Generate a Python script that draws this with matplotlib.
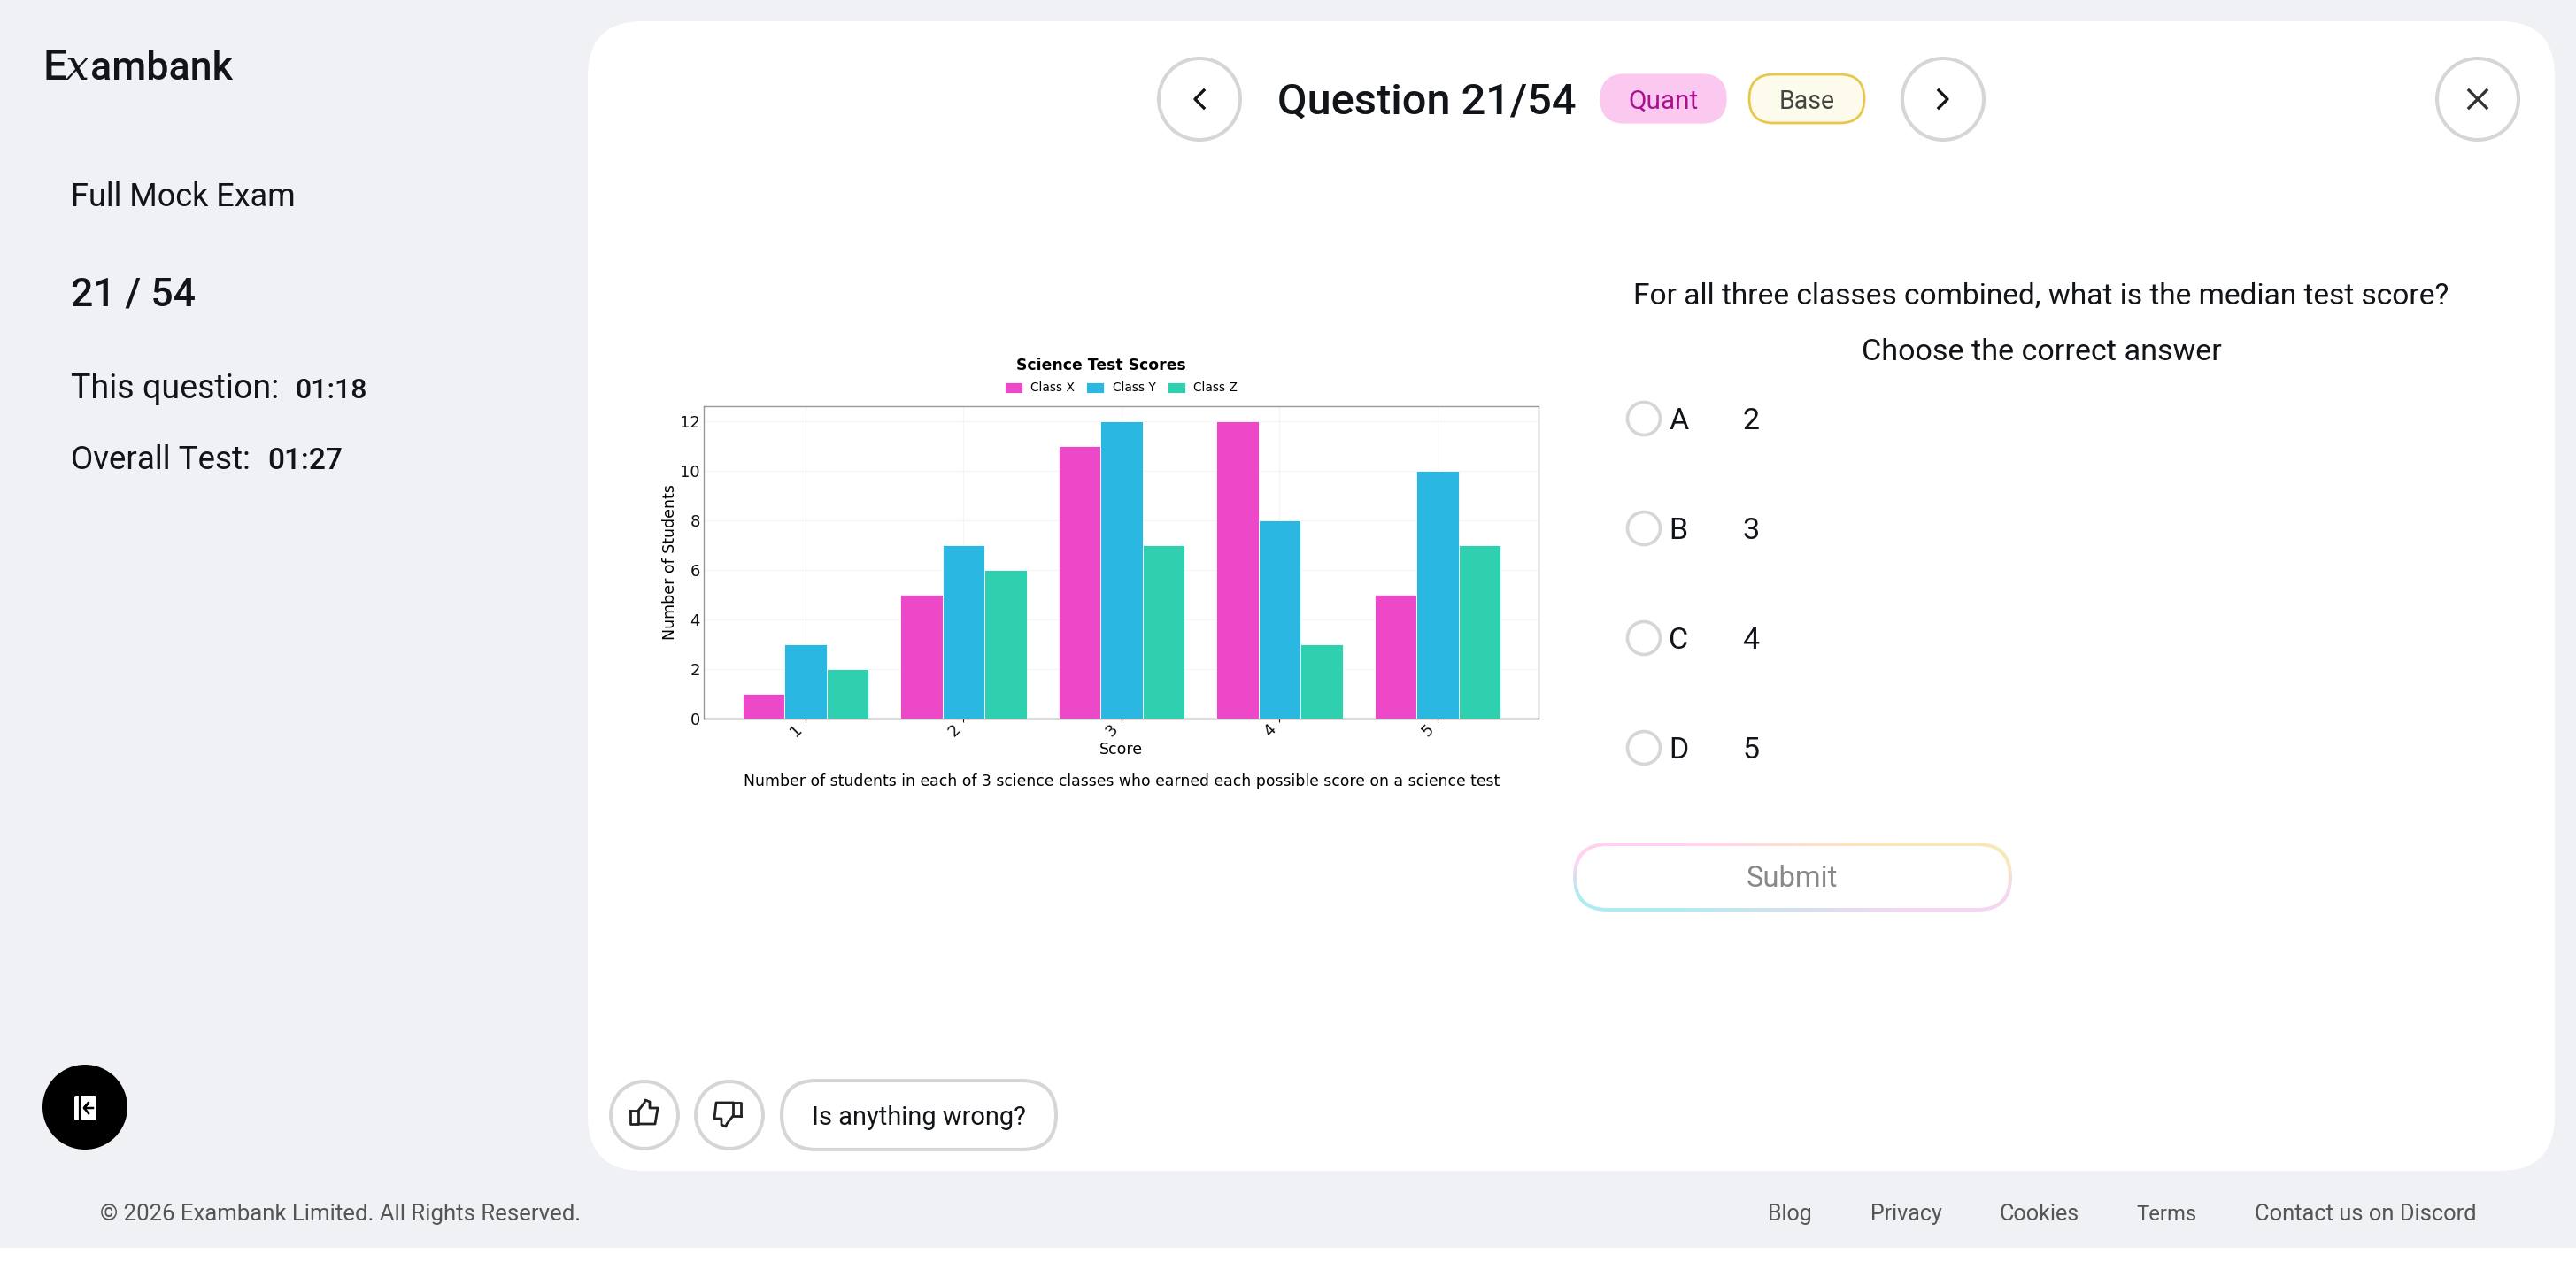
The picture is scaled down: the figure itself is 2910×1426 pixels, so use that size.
import numpy as np
import matplotlib
matplotlib.use('Agg')
import matplotlib.pyplot as plt
from matplotlib.patches import Circle, FancyBboxPatch, Rectangle

W, H = 2910, 1426

# chart data
scores = ['1', '2', '3', '4', '5']
class_x = [1, 5, 11, 12, 5]
class_y = [3, 7, 12, 8, 10]
class_z = [2, 6, 7, 3, 7]
class_names = ['Class X', 'Class Y', 'Class Z']
class_colors = ['#EC48C8', '#2AB8E3', '#2FD0B0']
y_ticks = [0, 2, 4, 6, 8, 10, 12]

# page text
option_letters = ['A', 'B', 'C', 'D']
option_values = ['2', '3', '4', '5']
footer_links = ['Blog', 'Privacy', 'Cookies', 'Terms', 'Contact us on Discord']
footer_x = [1997, 2113, 2258, 2413, 2547]
footer_w = [50, 81, 90, 68, 251]
option_y = [473, 597, 721, 845]

BG = '#EFF1F5'
RING = '#D6D6D6'
INK = '#111418'

plt.rcParams['font.family'] = ['Roboto', 'DejaVu Sans']
fig = plt.figure(figsize=(W / 100, H / 100), dpi=100, facecolor='white')
renderer = fig.canvas.get_renderer()

# page layer is drawn in pixel coordinates
ui = fig.add_axes([0, 0, 1, 1])
ui.set_xlim(0, W)
ui.set_ylim(H, 0)
ui.axis('off')


def label(x, y, s, width, color=INK, ha='left', weight=400, **kw):
    # font size comes from the width the text has in the page
    t = ui.text(x, y, s, fontsize=20, color=color, ha=ha, va='baseline', weight=weight, zorder=6, **kw)
    t.set_fontsize(20 * width / t.get_window_extent(renderer).width)
    return t


def ring(cx, cy, r, fc='white', ec=RING, lw=2.9):
    ui.add_patch(Circle((cx, cy), r, fc=fc, ec=ec, lw=lw, zorder=2))


def pill(x0, y0, x1, y1, fc='white', ec=RING, lw=2.9):
    r = (y1 - y0) / 2
    ui.add_patch(FancyBboxPatch((x0, y0), x1 - x0, y1 - y0, boxstyle='round,pad=0,rounding_size=%f' % r,
                                fc=fc, ec=ec, lw=lw, zorder=2))


ui.add_patch(Rectangle((0, 0), W, 1410, fc=BG, ec='none', zorder=0))
ui.add_patch(FancyBboxPatch((664, 24), 2886 - 664, 1323 - 24, boxstyle='round,pad=0,rounding_size=62',
                            fc='white', ec='none', zorder=1))

# left column
label(48, 90, 'E', 27, weight=500)
label(74, 90, 'x', 27, family='DejaVu Serif', style='italic')
label(102, 90, 'ambank', 161, weight=500)
label(80, 233, 'Full Mock Exam', 253)
label(80, 346, '21 / 54', 141, weight=500)
label(80, 450, 'This question:', 235)
label(333, 450, '01:18', 82, weight=500)
label(80, 530, 'Overall Test:', 203)
label(302, 530, '01:27', 85, weight=500)

# collapse button
ui.add_patch(Circle((96, 1251), 48, fc='black', ec='none', zorder=2))
ui.add_patch(FancyBboxPatch((84, 1238), 25, 28, boxstyle='round,pad=0,rounding_size=2', fc='white', ec='none', zorder=3))
ui.plot([90, 90], [1237, 1267], color='black', lw=1.6, zorder=4)
ui.plot([105, 95, 100, 95, 100], [1252, 1252, 1246, 1252, 1258], color='black', lw=1.8, zorder=4)

# header
ring(1355, 112, 46)
ring(2195, 112, 46)
ring(2799, 112, 46)
ui.plot([1360, 1350, 1360], [102, 112, 122], color=INK, lw=2.4, zorder=5)
ui.plot([2190, 2200, 2190], [102, 112, 122], color=INK, lw=2.4, zorder=5)
ui.plot([2789, 2809], [102, 122], color='#333333', lw=2.4, zorder=5)
ui.plot([2789, 2809], [122, 102], color='#333333', lw=2.4, zorder=5)
label(1443, 129, 'Question 21/54', 338, weight=500)
pill(1808, 84, 1950, 139, fc='#FBC9F0', ec='#FBC9F0', lw=1)
label(1879, 123, 'Quant', 79, color='#A8128F', ha='center')
pill(1976, 84, 2106, 139, fc='#FDFBEB', ec='#E8C84A', lw=2)
label(2041, 123, 'Base', 63, color='#444444', ha='center')

# question
label(2306, 344, 'For all three classes combined, what is the median test score?', 922, ha='center')
label(2306, 407, 'Choose the correct answer', 406, ha='center')
for yy, letter, value in zip(option_y, option_letters, option_values):
    ring(1857, yy, 18.5, lw=2.6)
    ui.text(1885, yy + 12, letter, fontsize=24.5, color=INK, zorder=6)
    ui.text(1978, yy + 12, value, fontsize=24.5, color=INK, ha='center', zorder=6)

# submit button with soft gradient border
grad = np.array([[[1.0, 0.83, 0.94], [0.98, 0.91, 0.72]],
                 [[0.70, 0.92, 0.95], [0.96, 0.84, 0.95]]])
im = ui.imshow(grad, extent=(1777, 2273, 1030, 952), interpolation='bilinear', aspect='auto', zorder=2)
outer = FancyBboxPatch((1777, 952), 496, 78, boxstyle='round,pad=0,rounding_size=39', fc='none', ec='none', zorder=2)
ui.add_patch(outer)
im.set_clip_path(outer)
ui.add_patch(FancyBboxPatch((1781, 956), 488, 70, boxstyle='round,pad=0,rounding_size=35', fc='white', ec='none', zorder=3))
label(2024, 1002, 'Submit', 103, color='#888888', ha='center')
ui.set_xlim(0, W)
ui.set_ylim(H, 0)

# feedback row
ring(728, 1260, 38)
ring(824, 1260, 38)
pill(883, 1221, 1193, 1299)
label(1038, 1271, 'Is anything wrong?', 241, ha='center')
ui.plot([712, 721, 721, 712, 712], [1255, 1255, 1270, 1270, 1255], color='#222222', lw=2, zorder=4)
ui.plot([721, 728, 729, 734, 734, 743, 740, 721],
        [1255, 1246, 1243, 1245, 1252, 1252, 1270, 1270], color='#222222', lw=2, zorder=4)
ui.plot([837, 828, 828, 837, 837], [1261, 1261, 1246, 1246, 1261], color='#222222', lw=2, zorder=4)
ui.plot([828, 821, 820, 815, 815, 807, 809, 828],
        [1261, 1270, 1273, 1271, 1264, 1264, 1246, 1246], color='#222222', lw=2, zorder=4)

# footer
label(113, 1379, '© 2026 Exambank Limited. All Rights Reserved.', 541, color='#555555')
for xx, ww, link in zip(footer_x, footer_w, footer_links):
    label(xx, 1379, link, ww, color='#555555')

# the chart itself
ax = fig.add_axes([795 / W, 1 - 812 / H, (1738 - 795) / W, (812 - 459) / H], zorder=5)
ax.set_facecolor('white')
pos = np.arange(len(scores))
bar_w = 0.8 / 3
for i, (vals, name, col) in enumerate(zip([class_x, class_y, class_z], class_names, class_colors)):
    ax.bar(pos + (i - 1) * bar_w, vals, bar_w, color=col, edgecolor='white', linewidth=0.6, label=name, zorder=3)
ax.set_xlim(-0.644, 4.639)
ax.set_ylim(0, 12.6)
ax.set_yticks(y_ticks)
ax.set_xticks(pos)
ax.set_xticklabels(scores, rotation=45, ha='right', family='DejaVu Sans')
ax.tick_params(axis='x', labelsize=13, colors='#111111', length=3, width=0.8, pad=-1)
ax.tick_params(axis='y', labelsize=13, colors='#111111', length=0, pad=3)
for t in ax.get_yticklabels():
    t.set_family('DejaVu Sans')
ax.grid(True, color='#E8E8E8', lw=0.8, alpha=0.4, zorder=0)
ax.set_axisbelow(True)
for s in ax.spines.values():
    s.set_color('#999999')
    s.set_linewidth(1.0)
ax.spines['bottom'].set_color('#555555')
ax.set_ylabel('Number of Students', fontsize=12.5, family='DejaVu Sans', va='center')
ax.yaxis.set_label_coords(-0.0404, 0.5)
ax.set_xlabel('Score', fontsize=12.5, family='DejaVu Sans', va='center')
ax.xaxis.set_label_coords(0.5, -0.099)
ax.legend(loc='lower center', bbox_to_anchor=(0.5, 1.015), ncol=3, frameon=False,
          prop={'family': 'DejaVu Sans', 'size': 9.9}, columnspacing=0.95, handlelength=1.45, handleheight=0.95,
          handletextpad=0.7, borderaxespad=0.2)

fig.text(1244 / W, 1 - 413 / H, 'Science Test Scores', fontsize=12.4, weight='bold', family='DejaVu Sans',
         ha='center', va='center', color='black')
fig.text(1267 / W, 1 - 883 / H, 'Number of students in each of 3 science classes who earned each possible score on a science test',
         fontsize=12.4, family='DejaVu Sans', ha='center', va='center', color='black')

fig.savefig('out.png', dpi=100, facecolor='white')
